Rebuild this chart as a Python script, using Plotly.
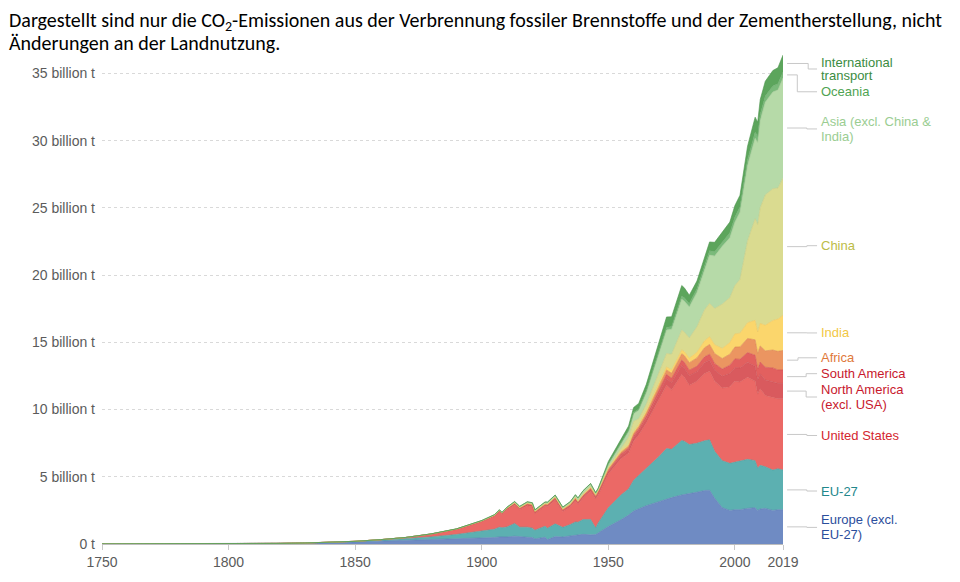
import plotly.graph_objects as go

years = [1750, 1760, 1770, 1780, 1790, 1800, 1810, 1820, 1830, 1840,
         1850, 1860, 1870, 1880, 1890, 1900, 1905, 1907, 1908, 1910,
         1913, 1915, 1918, 1920, 1921, 1925, 1926, 1929, 1932, 1935,
         1937, 1938, 1940, 1943, 1945, 1946, 1950, 1955, 1958, 1960,
         1962, 1965, 1970, 1973, 1975, 1979, 1980, 1982, 1985, 1988,
         1990, 1992, 1995, 1998, 2000, 2002, 2005, 2008, 2009, 2010,
         2012, 2015, 2017, 2019]

# billion tonnes CO2
europe_excl_eu = [0.009, 0.010, 0.011, 0.013, 0.018, 0.026, 0.031, 0.042, 0.065, 0.10,
                  0.15, 0.21, 0.27, 0.33, 0.39, 0.45, 0.48, 0.53, 0.51, 0.52,
                  0.58, 0.53, 0.50, 0.48, 0.38, 0.50, 0.33, 0.55, 0.52, 0.60,
                  0.66, 0.64, 0.72, 0.68, 0.70, 0.82, 1.30, 1.80, 2.15, 2.45,
                  2.60, 2.85, 3.15, 3.35, 3.45, 3.65, 3.70, 3.75, 3.85, 3.98,
                  4.00, 3.40, 2.70, 2.50, 2.55, 2.55, 2.65, 2.70, 2.50, 2.60,
                  2.65, 2.50, 2.55, 2.55]
eu27 = [0.0, 0.0, 0.0005, 0.0008, 0.001, 0.0015, 0.002, 0.003, 0.006, 0.012,
        0.03, 0.07, 0.12, 0.20, 0.32, 0.55, 0.62, 0.72, 0.70, 0.75,
        0.95, 0.72, 0.75, 0.70, 0.65, 0.82, 0.85, 0.95, 0.72, 0.85,
        0.98, 0.98, 1.10, 1.15, 0.50, 0.75, 1.40, 1.85, 1.95, 2.30,
        2.50, 2.75, 3.35, 3.75, 3.60, 4.05, 3.95, 3.65, 3.65, 3.70,
        3.75, 3.50, 3.50, 3.50, 3.55, 3.60, 3.65, 3.50, 3.15, 3.25,
        3.10, 3.00, 3.05, 2.95]
usa = [0.0, 0.0, 0.0001, 0.0002, 0.0003, 0.0005, 0.0008, 0.0013, 0.003, 0.007,
       0.02, 0.04, 0.09, 0.20, 0.37, 0.66, 0.95, 1.13, 0.98, 1.28,
       1.37, 1.30, 1.60, 1.59, 1.23, 1.48, 1.60, 1.77, 1.18, 1.32,
       1.58, 1.34, 1.60, 2.10, 2.15, 2.08, 2.50, 2.70, 2.65, 2.90,
       3.00, 3.40, 4.30, 4.70, 4.40, 4.90, 4.75, 4.40, 4.60, 5.00,
       5.10, 5.20, 5.40, 5.70, 6.00, 5.90, 6.10, 5.90, 5.50, 5.70,
       5.30, 5.40, 5.20, 5.30]
north_america_excl_usa = [0, 0, 0, 0, 0, 0, 0, 0, 0, 0,
                          0.001, 0.003, 0.006, 0.01, 0.02, 0.03, 0.045, 0.06, 0.06, 0.07,
                          0.09, 0.08, 0.10, 0.09, 0.08, 0.09, 0.10, 0.11, 0.08, 0.09,
                          0.10, 0.10, 0.11, 0.13, 0.13, 0.14, 0.17, 0.22, 0.25, 0.27,
                          0.30, 0.34, 0.45, 0.52, 0.55, 0.68, 0.70, 0.72, 0.72, 0.80,
                          0.82, 0.85, 0.87, 0.98, 1.02, 1.04, 1.12, 1.12, 1.07, 1.10,
                          1.15, 1.15, 1.15, 1.15]
south_america = [0, 0, 0, 0, 0, 0, 0, 0, 0, 0,
                 0, 0, 0, 0.002, 0.004, 0.008, 0.012, 0.015, 0.016, 0.02,
                 0.03, 0.025, 0.025, 0.03, 0.03, 0.035, 0.035, 0.04, 0.035, 0.04,
                 0.045, 0.045, 0.05, 0.05, 0.06, 0.07, 0.10, 0.13, 0.15, 0.16,
                 0.18, 0.20, 0.26, 0.30, 0.33, 0.40, 0.42, 0.41, 0.40, 0.44,
                 0.45, 0.48, 0.55, 0.62, 0.65, 0.65, 0.72, 0.82, 0.80, 0.88,
                 0.95, 1.05, 1.00, 1.00]
africa = [0, 0, 0, 0, 0, 0, 0, 0, 0, 0,
          0, 0, 0, 0.001, 0.002, 0.006, 0.01, 0.012, 0.012, 0.015,
          0.02, 0.02, 0.022, 0.025, 0.025, 0.03, 0.03, 0.035, 0.03, 0.035,
          0.04, 0.04, 0.045, 0.05, 0.055, 0.06, 0.10, 0.12, 0.14, 0.15,
          0.16, 0.20, 0.28, 0.33, 0.37, 0.47, 0.50, 0.56, 0.62, 0.68,
          0.72, 0.74, 0.78, 0.82, 0.88, 0.92, 1.05, 1.15, 1.15, 1.20,
          1.22, 1.33, 1.38, 1.45]
india = [0, 0, 0, 0, 0, 0, 0, 0, 0, 0,
         0, 0, 0, 0.004, 0.008, 0.015, 0.02, 0.025, 0.026, 0.028,
         0.035, 0.04, 0.045, 0.045, 0.045, 0.048, 0.048, 0.05, 0.045, 0.05,
         0.055, 0.06, 0.065, 0.07, 0.07, 0.065, 0.07, 0.09, 0.10, 0.12,
         0.14, 0.16, 0.20, 0.22, 0.25, 0.29, 0.30, 0.34, 0.42, 0.52,
         0.58, 0.65, 0.75, 0.86, 0.98, 1.02, 1.17, 1.45, 1.60, 1.68,
         1.90, 2.20, 2.40, 2.62]
china = [0, 0, 0, 0, 0, 0, 0, 0, 0, 0,
         0, 0, 0, 0, 0, 0.001, 0.003, 0.005, 0.005, 0.008,
         0.01, 0.012, 0.014, 0.016, 0.016, 0.02, 0.02, 0.022, 0.025, 0.03,
         0.035, 0.04, 0.055, 0.06, 0.035, 0.04, 0.08, 0.20, 0.55, 0.78,
         0.44, 0.50, 0.80, 1.00, 1.17, 1.47, 1.45, 1.50, 1.90, 2.30,
         2.48, 2.70, 3.30, 3.35, 3.60, 4.00, 6.10, 7.55, 8.00, 8.60,
         9.70, 9.80, 9.75, 10.20]
asia_excl = [0, 0, 0, 0, 0, 0, 0, 0, 0, 0,
             0, 0, 0.001, 0.003, 0.006, 0.02, 0.03, 0.035, 0.035, 0.04,
             0.055, 0.055, 0.065, 0.07, 0.065, 0.075, 0.08, 0.09, 0.085, 0.11,
             0.14, 0.15, 0.18, 0.17, 0.08, 0.08, 0.18, 0.32, 0.42, 0.55,
             0.62, 0.85, 1.35, 1.75, 1.85, 2.30, 2.30, 2.30, 2.55, 2.95,
             3.60, 3.90, 4.30, 4.45, 4.70, 5.00, 5.60, 6.00, 6.10, 6.50,
             6.90, 7.20, 7.30, 7.45]
oceania = [0, 0, 0, 0, 0, 0, 0, 0, 0, 0,
           0, 0.001, 0.002, 0.004, 0.007, 0.01, 0.012, 0.014, 0.014, 0.016,
           0.02, 0.02, 0.02, 0.022, 0.022, 0.026, 0.026, 0.028, 0.025, 0.03,
           0.033, 0.034, 0.037, 0.042, 0.042, 0.045, 0.06, 0.075, 0.085, 0.095,
           0.10, 0.125, 0.17, 0.19, 0.21, 0.24, 0.25, 0.26, 0.27, 0.30,
           0.31, 0.32, 0.34, 0.37, 0.39, 0.41, 0.43, 0.46, 0.46, 0.45,
           0.45, 0.44, 0.45, 0.45]
intl_transport = [0, 0, 0, 0, 0, 0, 0, 0, 0, 0,
                  0, 0, 0, 0, 0, 0, 0, 0, 0, 0,
                  0, 0, 0, 0, 0, 0, 0, 0, 0, 0,
                  0, 0, 0, 0, 0, 0, 0.18, 0.28, 0.33, 0.38,
                  0.42, 0.50, 0.68, 0.78, 0.72, 0.78, 0.74, 0.62, 0.58, 0.62,
                  0.66, 0.70, 0.72, 0.80, 0.86, 0.85, 1.00, 1.10, 1.05, 1.10,
                  1.10, 1.15, 1.20, 1.25]

series_labels = [["Europe (excl.", "EU-27)"], ["EU-27"], ["United States"],
                 ["North America", "(excl. USA)"], ["South America"], ["Africa"],
                 ["India"], ["China"], ["Asia (excl. China &", "India)"], ["Oceania"],
                 ["International", "transport"]]
series_values = [europe_excl_eu, eu27, usa, north_america_excl_usa, south_america,
                 africa, india, china, asia_excl, oceania, intl_transport]

fill_colors = ["#6f8bc3", "#5cb0b1", "#eb6966", "#d95a5e", "#e2605f", "#eb9561",
               "#fbd66c", "#dadb90", "#b6daa8", "#7aba7a", "#5ca55c"]
line_colors = ["#5f7bb5", "#4a9fa0", "#d85a58", "#c94d52", "#cf5053", "#d9854f",
               "#eec45a", "#c8c97e", "#a4c996", "#69a969", "#4b944b"]
label_colors = ["#2b4e9c", "#22878b", "#d4262f", "#c8182d", "#c8182d", "#e0783a",
                "#f2c744", "#bcbc48", "#9acd92", "#4fa352", "#3b8c3f"]
# label line positions (data units) on the right side, and jog x (paper)
label_lines_y = [[1.79, 0.68], [3.94], [8.07], [11.51, 10.36], [12.67], [13.85],
                 [15.70], [22.19], [31.43, 30.32], [33.64], [35.85, 34.82]]
jog_x = [1.035, 1.035, 1.035, 1.034, 1.034, 1.022, 1.035, 1.035, 1.035, 1.021, 1.037]

fig = go.Figure()
for lab, vals, fc, lc in zip(series_labels, series_values, fill_colors, line_colors):
    fig.add_trace(go.Scatter(
        x=years, y=vals, mode="lines", stackgroup="one",
        line=dict(width=0.6, color=lc), fillcolor=fc,
        name=" ".join(lab), hoverinfo="skip", showlegend=False))

cum = 0.0
shapes = []
annotations = []
conn = "#c8c8c8"
for lab, vals, col, lys, jx in zip(series_labels, series_values, label_colors,
                                   label_lines_y, jog_x):
    last = vals[-1]
    mid = cum + last / 2
    cum += last
    ly = sum(lys) / len(lys)
    shapes.append(dict(type="line", xref="paper", yref="y", x0=1.006, x1=jx,
                       y0=mid, y1=mid, line=dict(color=conn, width=1)))
    shapes.append(dict(type="line", xref="paper", yref="y", x0=jx, x1=jx,
                       y0=mid, y1=ly, line=dict(color=conn, width=1)))
    shapes.append(dict(type="line", xref="paper", yref="y", x0=jx, x1=1.05,
                       y0=ly, y1=ly, line=dict(color=conn, width=1)))
    for txt, yy in zip(lab, lys):
        annotations.append(dict(x=1.055, y=yy, xref="paper", yref="y", text=txt,
                                showarrow=False, xanchor="left", yanchor="middle",
                                align="left", borderpad=0,
                                font=dict(family="Liberation Sans, Arial", size=13,
                                          color=col)))

PLOT_W = 681.0
PLOT_H = 494.0
title_lines = ["Dargestellt sind nur die CO<sub>2</sub>-Emissionen aus der Verbrennung "
               "fossiler Brennstoffe und der Zementherstellung, nicht",
               "Änderungen an der Landnutzung."]
title_centers_px = [13, 35]  # distance from top of figure
for txt, cy in zip(title_lines, title_centers_px):
    annotations.append(dict(
        x=-94 / PLOT_W, y=1 + (46 - cy) / PLOT_H, xref="paper", yref="paper",
        text=txt, showarrow=False, xanchor="left", yanchor="middle", align="left",
        borderpad=0,
        font=dict(family="Carlito, Lato, Open Sans", size=20, color="#000000")))

ytick_vals = [0, 5, 10, 15, 20, 25, 30, 35]
ytick_text = ["0 t", "5 billion t", "10 billion t", "15 billion t", "20 billion t",
              "25 billion t", "30 billion t", "35 billion t"]
xtick_vals = [1750, 1800, 1850, 1900, 1950, 2000, 2019]

fig.update_layout(
    width=952, height=574,
    margin=dict(l=94, r=177, t=46, b=34),
    paper_bgcolor="white", plot_bgcolor="white",
    shapes=shapes, annotations=annotations,
    xaxis=dict(range=[1750, 2019], tickvals=xtick_vals,
               ticktext=[str(v) for v in xtick_vals],
               ticks="outside", ticklen=5, tickcolor="#c8c8c8",
               showgrid=False, showline=True, linecolor="#bdbdbd", zeroline=False,
               tickfont=dict(family="Liberation Sans, Arial", size=14, color="#5b5b5b")),
    yaxis=dict(range=[0, 36.45], tickvals=ytick_vals, ticktext=ytick_text,
               showgrid=True, gridcolor="#d9d9d9", griddash="3px,3px", gridwidth=1,
               zeroline=False, showline=False, ticks="", ticklabelstandoff=6,
               tickfont=dict(family="Liberation Sans, Arial", size=14, color="#5b5b5b")),
)

fig.write_html("out.html")
